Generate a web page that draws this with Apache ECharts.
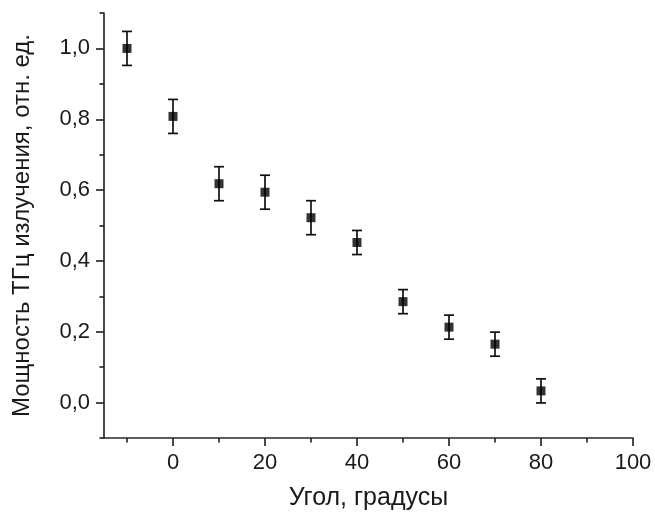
<!DOCTYPE html>
<html>
<head>
<meta charset="utf-8">
<script src="https://cdn.jsdelivr.net/npm/echarts@6/dist/echarts.min.js"></script>
<style>html,body{margin:0;padding:0;background:#fff;}#chart{width:655px;height:516px;}</style>
</head>
<body>
<div id="chart"></div>
<script>
// Data
const angles = [-10, 0, 10, 20, 30, 40, 50, 60, 70, 80];
const power  = [1.000, 0.808, 0.618, 0.594, 0.522, 0.452, 0.285, 0.213, 0.165, 0.033];
const errors = [0.048, 0.048, 0.048, 0.048, 0.048, 0.034, 0.034, 0.034, 0.034, 0.034];

const xMajorTicks = [0, 20, 40, 60, 80, 100];
const xMinorTicks = [-10, 10, 30, 50, 70, 90];
const yMajorTicks = [0, 0.2, 0.4, 0.6, 0.8, 1.0];
const yMinorTicks = [-0.1, 0.1, 0.3, 0.5, 0.7, 0.9, 1.1];

const xTitle = 'Угол, градусы';
const yTitle = 'Мощность ТГц излучения, отн. ед.';

const FONT = 'Liberation Sans';
const TXT = '#1a1a1a';
const AX = '#2a2a2a';

const chart = echarts.init(document.getElementById('chart'), null, {renderer: 'canvas'});

const baseX = {
  type: 'value', min: -15, max: 100, position: 'bottom',
  splitLine: {show: false}
};
const baseY = {
  type: 'value', min: -0.1, max: 1.1, position: 'left',
  splitLine: {show: false}
};

chart.setOption({
  animation: false,
  backgroundColor: '#fff',
  grid: {left: 104, right: 22, top: 13, bottom: 77, containLabel: false},
  xAxis: [
    Object.assign({}, baseX, {
      name: xTitle, nameLocation: 'middle', nameGap: 48,
      nameTextStyle: {fontFamily: FONT, fontSize: 25, color: TXT},
      axisLine: {show: true, onZero: false, lineStyle: {color: AX, width: 1.7}},
      axisTick: {show: true, inside: false, length: 8, customValues: xMajorTicks, lineStyle: {color: AX, width: 1.7}},
      axisLabel: {show: true, customValues: xMajorTicks, margin: 14, fontFamily: FONT, fontSize: 22, color: TXT}
    }),
    Object.assign({}, baseX, {
      axisLine: {show: false, onZero: false},
      axisTick: {show: true, inside: false, length: 4.5, customValues: xMinorTicks, lineStyle: {color: AX, width: 1.7}},
      axisLabel: {show: false}
    })
  ],
  yAxis: [
    Object.assign({}, baseY, {
      name: yTitle, nameLocation: 'middle', nameGap: 70, nameRotate: 90,
      nameTextStyle: {fontFamily: FONT, fontSize: 24, color: TXT},
      axisLine: {show: true, onZero: false, lineStyle: {color: AX, width: 1.7}},
      axisTick: {show: true, inside: false, length: 8, customValues: yMajorTicks, lineStyle: {color: AX, width: 1.7}},
      axisLabel: {show: true, customValues: yMajorTicks, margin: 14, fontFamily: FONT, fontSize: 22, color: TXT,
        formatter: v => v.toFixed(1).replace('.', ',')}
    }),
    Object.assign({}, baseY, {
      offset: 0,
      axisLine: {show: false, onZero: false},
      axisTick: {show: true, inside: false, length: 4.5, customValues: yMinorTicks, lineStyle: {color: AX, width: 1.7}},
      axisLabel: {show: false}
    })
  ],
  series: [
    {
      type: 'custom',
      xAxisIndex: 0, yAxisIndex: 0,
      data: angles.map((a, i) => [a, power[i] - errors[i], power[i] + errors[i]]),
      renderItem: function (params, api) {
        const x = api.value(0);
        const lo = api.coord([x, api.value(1)]);
        const hi = api.coord([x, api.value(2)]);
        const hw = 5;
        const style = {stroke: '#111', lineWidth: 1.7, fill: null};
        return {
          type: 'group',
          children: [
            {type: 'line', shape: {x1: lo[0], y1: lo[1], x2: hi[0], y2: hi[1]}, style: style},
            {type: 'line', shape: {x1: lo[0] - hw, y1: lo[1], x2: lo[0] + hw, y2: lo[1]}, style: style},
            {type: 'line', shape: {x1: hi[0] - hw, y1: hi[1], x2: hi[0] + hw, y2: hi[1]}, style: style}
          ]
        };
      },
      z: 2
    },
    {
      type: 'scatter',
      xAxisIndex: 0, yAxisIndex: 0,
      symbol: 'rect', symbolSize: 9,
      itemStyle: {color: '#000'},
      data: angles.map((a, i) => [a, power[i]]),
      z: 3
    }
  ]
});
</script>
</body>
</html>
